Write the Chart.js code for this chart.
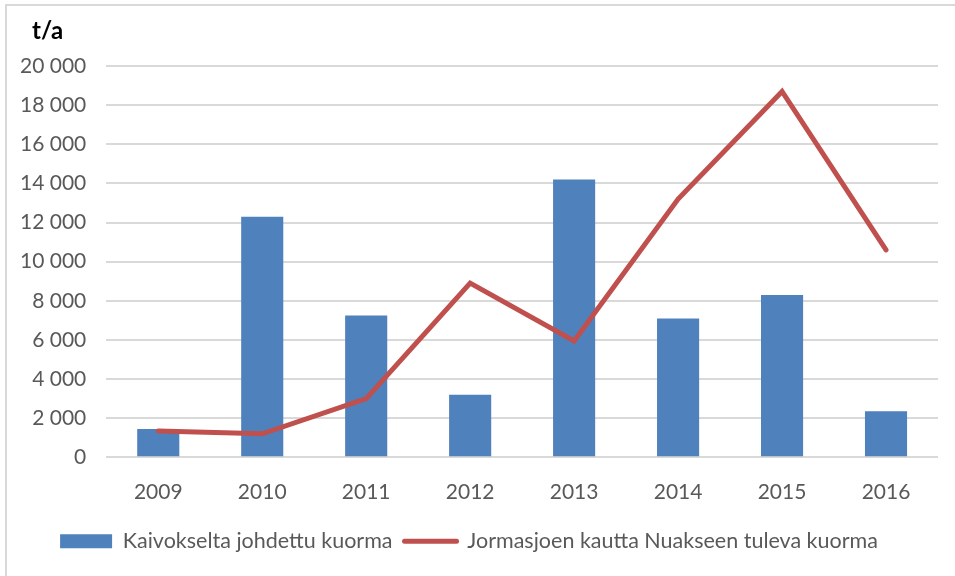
<!DOCTYPE html>
<html>
<head>
<meta charset="utf-8">
<script src="https://cdn.jsdelivr.net/npm/chart.js@4.4.0/dist/chart.umd.min.js"></script>
<style>
  html, body { margin: 0; padding: 0; background: #fff; }
  #wrap { position: relative; width: 955px; height: 576px; overflow: hidden; }
  #frame { position: absolute; left: 5px; top: 4px; width: 1000px; height: 1000px; border: 2px solid #d9d9d9; box-sizing: border-box; }
  #c { position: absolute; left: 0; top: 0; }
</style>
</head>
<body>
<div id="wrap">
  <div id="frame"></div>
  <canvas id="c" width="955" height="576"></canvas>
</div>
<script>
const categories = ['2009', '2010', '2011', '2012', '2013', '2014', '2015', '2016'];
const seriesNames = ['Kaivokselta johdettu kuorma', 'Jormasjoen kautta Nuakseen tuleva kuorma'];
const barValues = [1450, 12300, 7250, 3200, 14200, 7100, 8300, 2350];
const lineValues = [1350, 1200, 3000, 8900, 5950, 13200, 18700, 10600];
const yTicks = [0, 2000, 4000, 6000, 8000, 10000, 12000, 14000, 16000, 18000, 20000];
const unitLabel = 't/a';

const FONT = 'Lato';
const TEXT = '#595959';

function fmt(v) {
  return String(v).replace(/\B(?=(\d{3})+(?!\d))/g, ' ');
}

const unitPlugin = {
  id: 'unitLabel',
  afterDraw(chart) {
    const ctx = chart.ctx;
    ctx.save();
    ctx.font = 'bold 24px ' + FONT;
    ctx.fillStyle = '#000';
    ctx.textBaseline = 'alphabetic';
    ctx.textAlign = 'left';
    ctx.fillText(unitLabel, 32, 39);
    ctx.restore();
  }
};

new Chart(document.getElementById('c'), {
  type: 'bar',
  data: {
    labels: categories,
    datasets: [
      {
        type: 'bar',
        label: seriesNames[0],
        data: barValues,
        backgroundColor: '#4f81bd',
        borderWidth: 0,
        categoryPercentage: 1,
        barPercentage: 0.405,
        order: 1
      },
      {
        type: 'line',
        label: seriesNames[1],
        data: lineValues,
        borderColor: '#c0504d',
        backgroundColor: '#c0504d',
        borderWidth: 5,
        borderCapStyle: 'round',
        pointRadius: 0,
        pointHoverRadius: 0,
        tension: 0,
        fill: false,
        order: 0
      }
    ]
  },
  options: {
    responsive: false,
    animation: false,
    devicePixelRatio: 1,
    layout: { padding: { left: 0, right: 17, top: 66, bottom: 14 } },
    plugins: {
      tooltip: { enabled: false },
      title: { display: false },
      legend: {
        position: 'bottom',
        labels: {
          font: { family: FONT, size: 21.5 },
          color: TEXT,
          usePointStyle: true,
          pointStyleWidth: 52,
          boxHeight: 14,
          padding: 12,
          generateLabels(chart) {
            const items = Chart.defaults.plugins.legend.labels.generateLabels(chart);
            items.sort((a, b) => a.datasetIndex - b.datasetIndex);
            items.forEach((it) => {
              if (it.datasetIndex === 0) {
                it.pointStyle = 'rect'; it.lineWidth = 0; it.fillStyle = '#4f81bd'; it.strokeStyle = '#4f81bd';
              } else {
                it.pointStyle = 'line'; it.lineWidth = 5; it.lineCap = 'round'; it.strokeStyle = '#c0504d';
              }
            });
            return items;
          }
        }
      }
    },
    scales: {
      x: {
        grid: { display: false },
        border: { display: false },
        ticks: { font: { family: FONT, size: 21 }, color: TEXT, padding: 14 }
      },
      y: {
        min: 0,
        max: 20000,
        afterBuildTicks(axis) { axis.ticks = yTicks.map(v => ({ value: v })); },
        grid: { color: '#d9d9d9', lineWidth: 2, drawTicks: false },
        border: { display: false },
        ticks: {
          font: { family: FONT, size: 21 },
          color: TEXT,
          padding: 20,
          callback: v => fmt(v)
        }
      }
    }
  },
  plugins: [unitPlugin]
});
</script>
</body>
</html>
